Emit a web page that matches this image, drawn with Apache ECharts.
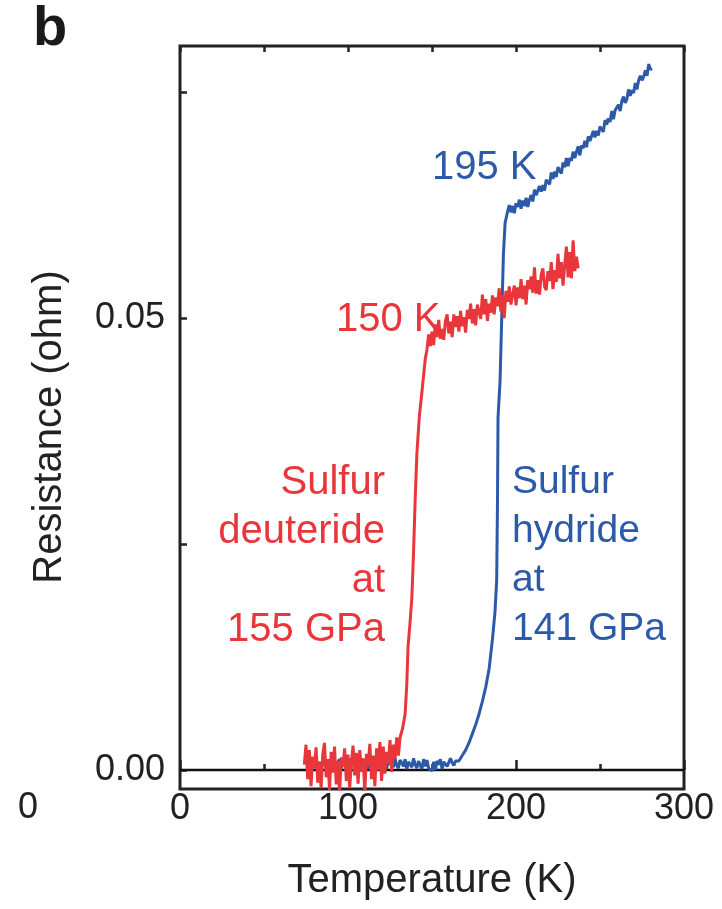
<!DOCTYPE html>
<html>
<head>
<meta charset="utf-8">
<style>
  html, body { margin: 0; padding: 0; background: #fff; }
  #chart { width: 722px; height: 909px; }
</style>
<script src="https://cdn.jsdelivr.net/npm/echarts@6/dist/echarts.min.js"></script>
</head>
<body>
<div id="chart"></div>
<script>
// sulfur hydride at 141 GPa (blue)
var blueT = [76, 77, 78, 79, 80, 81, 82, 83, 84, 85, 86, 87, 88, 89, 90, 91, 92, 93, 94, 95,
    96, 97, 98, 99, 100, 101, 102, 103, 104, 105, 106, 107, 108, 109, 110, 111, 112, 113, 114, 115,
    116, 117, 118, 119, 120, 121, 122, 123, 124, 125, 126, 127, 128, 129, 130, 131, 132, 133, 134, 135,
    136, 137, 138, 139, 140, 141, 142, 143, 144, 145, 146, 147, 148, 149, 150, 151, 152, 153, 154, 155,
    156, 157, 158, 159, 160, 161, 162, 163, 164,
    165, 166, 168, 170, 172, 174, 176, 178, 180, 182, 184, 186, 187.5, 188.5, 189, 189.3, 190.5, 191.5, 192.5, 193.5, 195,
    196, 197, 198, 199, 200, 201, 202, 203, 204, 205, 206, 207, 208, 209, 210, 211, 212, 213, 214, 215,
    216, 217, 218, 219, 220, 221, 222, 223, 224, 225, 226, 227, 228, 229, 230, 231, 232, 233, 234, 235,
    236, 237, 238, 239, 240, 241, 242, 243, 244, 245, 246, 247, 248, 249, 250, 251, 252, 253, 254, 255,
    256, 257, 258, 259, 260, 261, 262, 263, 264, 265, 266, 267, 268, 269, 270, 271, 272, 273, 274, 275,
    276, 277, 278, 279, 280, 281];
var blueR = [0.0022, -0.0004, 0.0013, 0.0002, 0.0008, 0.0012, 0.0003, 0.0009, 0.0001, 0.0010, 0.0012, 0.0005, 0.0002, 0.0011, 0.0007, 0.0013, 0.0004, 0.0003, 0.0009, 0.0012,
    0.0001, 0.0010, 0.0006, 0.0011, 0.0002, 0.0013, 0.0005, 0.0008, 0.0003, 0.0012, 0.0004, 0.0009, 0.0013, 0.0002, 0.0006, 0.0011, 0.0001, 0.0010, 0.0012, 0.0004,
    0.0005, 0.0013, 0.0003, 0.0008, 0.0011, 0.0002, 0.0009, 0.0001, 0.0012, 0.0006, 0.0010, 0.0003, 0.0013, 0.0005, 0.0002, 0.0011, 0.0008, 0.0004, 0.0012, 0.0001,
    0.0009, 0.0011, 0.0003, 0.0013, 0.0006, 0.0002, 0.0010, 0.0009, 0.0001, 0.0012, 0.0004, 0.0011, 0.0002, 0.0004, -0.0001, 0.0009, 0.0000, 0.0010, 0.0006, 0.0012,
    0.0001, 0.0009, 0.0011, 0.0004, 0.0002, 0.0013, 0.0008, 0.0005, 0.0010,
    0.0008, 0.0010, 0.0016, 0.0022, 0.0030, 0.0040, 0.0050, 0.0062, 0.0076, 0.0092, 0.0112, 0.0145, 0.0175, 0.0210, 0.0300, 0.0390, 0.0430, 0.0500, 0.0570, 0.0605, 0.0618,
    0.0625, 0.0617, 0.0624, 0.0616, 0.0627, 0.0623, 0.0631, 0.0621, 0.0630, 0.0624, 0.0633, 0.0623, 0.0631, 0.0636, 0.0629, 0.0642, 0.0636, 0.0636, 0.0646, 0.0640,
    0.0647, 0.0641, 0.0653, 0.0652, 0.0648, 0.0661, 0.0654, 0.0662, 0.0656, 0.0667, 0.0663, 0.0660, 0.0672, 0.0667, 0.0677, 0.0668, 0.0677, 0.0674, 0.0684, 0.0677,
    0.0684, 0.0690, 0.0680, 0.0691, 0.0688, 0.0696, 0.0689, 0.0701, 0.0696, 0.0695, 0.0707, 0.0700, 0.0707, 0.0702, 0.0712, 0.0711, 0.0706, 0.0719, 0.0714, 0.0721,
    0.0717, 0.0729, 0.0720, 0.0730, 0.0729, 0.0736, 0.0729, 0.0740, 0.0745, 0.0738, 0.0742, 0.0753, 0.0746, 0.0752, 0.0749, 0.0760, 0.0753, 0.0763, 0.0768, 0.0763,
    0.0767, 0.0774, 0.0768, 0.0781, 0.0775, 0.0776];

// sulfur deuteride at 155 GPa (red)
var redT = [74, 75, 76, 77, 78, 79, 80, 81, 82, 83, 84, 85, 86, 87, 88, 89, 90, 91, 92, 93,
    94, 95, 96, 97, 98, 99, 100, 101, 102, 103, 104, 105, 106, 107, 108, 109, 110, 111, 112, 113,
    114, 115, 116, 117, 118, 119, 120, 121, 122, 123, 124, 125, 126, 127, 128, 129, 130,
    131, 132.5, 134, 135, 135.7, 137, 138, 139, 140, 141, 142.5, 144, 146, 147,
    148, 149, 150, 151, 152, 153, 154, 155, 156, 157, 158, 159, 160, 161, 162, 163, 164, 165, 166, 167,
    168, 169, 170, 171, 172, 173, 174, 175, 176, 177, 178, 179, 180, 181, 182, 183, 184, 185, 186, 187,
    188, 189, 190, 191, 192, 193, 194, 195, 196, 197, 198, 199, 200, 201, 202, 203, 204, 205, 206, 207,
    208, 209, 210, 211, 212, 213, 214, 215, 216, 217, 218, 219, 220, 221, 222, 223, 224, 225, 226, 227,
    228, 229, 230, 231, 232, 233, 234, 235, 236, 237];
var redR = [0.0006, 0.0028, -0.0010, 0.0022, -0.0018, 0.0015, 0.0002, 0.0025, -0.0014, 0.0009, -0.0020, 0.0018, 0.0030, -0.0008, 0.0012, -0.0022, 0.0020, -0.0003, 0.0026, -0.0016,
    0.0010, -0.0025, 0.0014, 0.0004, 0.0024, -0.0012, 0.0017, -0.0020, 0.0008, 0.0027, -0.0006, 0.0019, -0.0015, 0.0022, -0.0002, 0.0013, -0.0024, 0.0018, 0.0005, 0.0029,
    -0.0010, 0.0016, -0.0018, 0.0024, 0.0000, 0.0031, -0.0012, 0.0026, -0.0004, 0.0020, 0.0007, 0.0033, -0.0002, 0.0028, 0.0012, 0.0036, 0.0016,
    0.0036, 0.0046, 0.0062, 0.0095, 0.0135, 0.0165, 0.0190, 0.0240, 0.0300, 0.0350, 0.0392, 0.0418, 0.0455, 0.0465,
    0.0482, 0.0469, 0.0485, 0.0470, 0.0493, 0.0479, 0.0498, 0.0477, 0.0488, 0.0476, 0.0497, 0.0504, 0.0483, 0.0496, 0.0479, 0.0504, 0.0490, 0.0502, 0.0485, 0.0508,
    0.0491, 0.0501, 0.0484, 0.0509, 0.0499, 0.0516, 0.0494, 0.0510, 0.0492, 0.0515, 0.0507, 0.0499, 0.0526, 0.0504, 0.0521, 0.0497, 0.0516, 0.0506, 0.0525, 0.0504,
    0.0523, 0.0513, 0.0533, 0.0507, 0.0525, 0.0500, 0.0530, 0.0518, 0.0535, 0.0515, 0.0526, 0.0536, 0.0514, 0.0534, 0.0522, 0.0543, 0.0521, 0.0536, 0.0515, 0.0542,
    0.0532, 0.0546, 0.0528, 0.0556, 0.0527, 0.0542, 0.0526, 0.0548, 0.0555, 0.0535, 0.0531, 0.0552, 0.0541, 0.0562, 0.0532, 0.0553, 0.0540, 0.0571, 0.0544, 0.0562,
    0.0536, 0.0559, 0.0579, 0.0545, 0.0573, 0.0544, 0.0586, 0.0552, 0.0568, 0.0555];

var xLabels = [0, 100, 200, 300];
var yTicks = [0, 0.025, 0.05, 0.075];
var yLabels = [0, 0.05];

var RED = '#e8363a';
var BLUE = '#2c5aa8';
var FONT = '"Liberation Sans", Arial, Helvetica, sans-serif';

function pairs(xs, ys) {
    return xs.map(function (x, i) { return [x, ys[i]]; });
}

var chart = echarts.init(document.getElementById('chart'));
chart.setOption({
    animation: false,
    backgroundColor: '#fff',
    grid: {
        left: 180, right: 38, top: 46, bottom: 120,
        show: true, borderColor: '#222', borderWidth: 3, backgroundColor: 'transparent'
    },
    xAxis: [{
        type: 'value', min: 0, max: 300, interval: 100,
        axisLine: { show: false },
        axisTick: { show: true, inside: true, length: 10, lineStyle: { color: '#222', width: 2.5 } },
        minorTick: { show: true, splitNumber: 2, length: 6, lineStyle: { color: '#222', width: 2.5 } },
        splitLine: { show: false },
        axisLabel: {
            margin: 2, fontSize: 36, color: '#222', fontFamily: FONT,
            formatter: function (v) { return xLabels.indexOf(v) >= 0 ? String(v) : ''; }
        }
    }, {
        type: 'value', min: 0, max: 300, interval: 50, position: 'top',
        axisLine: { show: false },
        axisTick: { show: true, inside: true, length: 6, lineStyle: { color: '#222', width: 2.5 } },
        splitLine: { show: false },
        axisLabel: { show: false }
    }],
    yAxis: {
        type: 'value', min: -0.0021, max: 0.0801,
        axisLine: { show: false },
        axisTick: { show: true, inside: true, length: 7, customValues: yTicks, lineStyle: { color: '#222', width: 2.5 } },
        splitLine: { show: false },
        axisLabel: {
            margin: 15, fontSize: 36, color: '#222', fontFamily: FONT,
            customValues: yLabels,
            formatter: function (v) { return v.toFixed(2); }
        }
    },
    series: [{
        type: 'line', name: 'zero',
        data: [[0, 0], [300, 0]],
        showSymbol: false, silent: true, z: 1,
        lineStyle: { color: '#111', width: 2.5 }
    }, {
        type: 'line', name: 'Sulfur hydride',
        data: pairs(blueT, blueR),
        showSymbol: false, z: 2,
        lineStyle: { color: BLUE, width: 3 }
    }, {
        type: 'line', name: 'Sulfur deuteride',
        data: pairs(redT, redR),
        showSymbol: false, z: 3,
        lineStyle: { color: RED, width: 3 }
    }],
    graphic: [
        { type: 'text', left: 33, top: 2, style: { text: 'b', font: 'bold 56px ' + FONT, fill: '#1a1a1a' } },
        { type: 'text', x: 28, y: 808, style: { text: '0', font: '36px ' + FONT, fill: '#222', align: 'center', verticalAlign: 'middle' } },
        { type: 'text', x: 432, y: 881, style: { text: 'Temperature (K)', font: '40px ' + FONT, fill: '#222', align: 'center', verticalAlign: 'middle' } },
        { type: 'text', x: 50, y: 427, rotation: Math.PI / 2, style: { text: 'Resistance (ohm)', font: '40px ' + FONT, fill: '#222', align: 'center', verticalAlign: 'middle' } },
        { type: 'text', x: 432, y: 148, style: { text: '195 K', font: '40px ' + FONT, fill: BLUE, align: 'left', verticalAlign: 'alphabetic' } },
        { type: 'text', x: 336, y: 300, style: { text: '150 K', font: '40px ' + FONT, fill: RED, align: 'left', verticalAlign: 'alphabetic' } },
        { type: 'text', x: 385, y: 458, style: { text: 'Sulfur\ndeuteride\nat\n155 GPa', font: '40px ' + FONT, lineHeight: 49, fill: RED, align: 'right', verticalAlign: 'alphabetic' } },
        { type: 'text', x: 512, y: 458, style: { text: 'Sulfur\nhydride\nat\n141 GPa', font: '39px ' + FONT, lineHeight: 49, fill: BLUE, align: 'left', verticalAlign: 'alphabetic' } }
    ]
});
</script>
</body>
</html>
